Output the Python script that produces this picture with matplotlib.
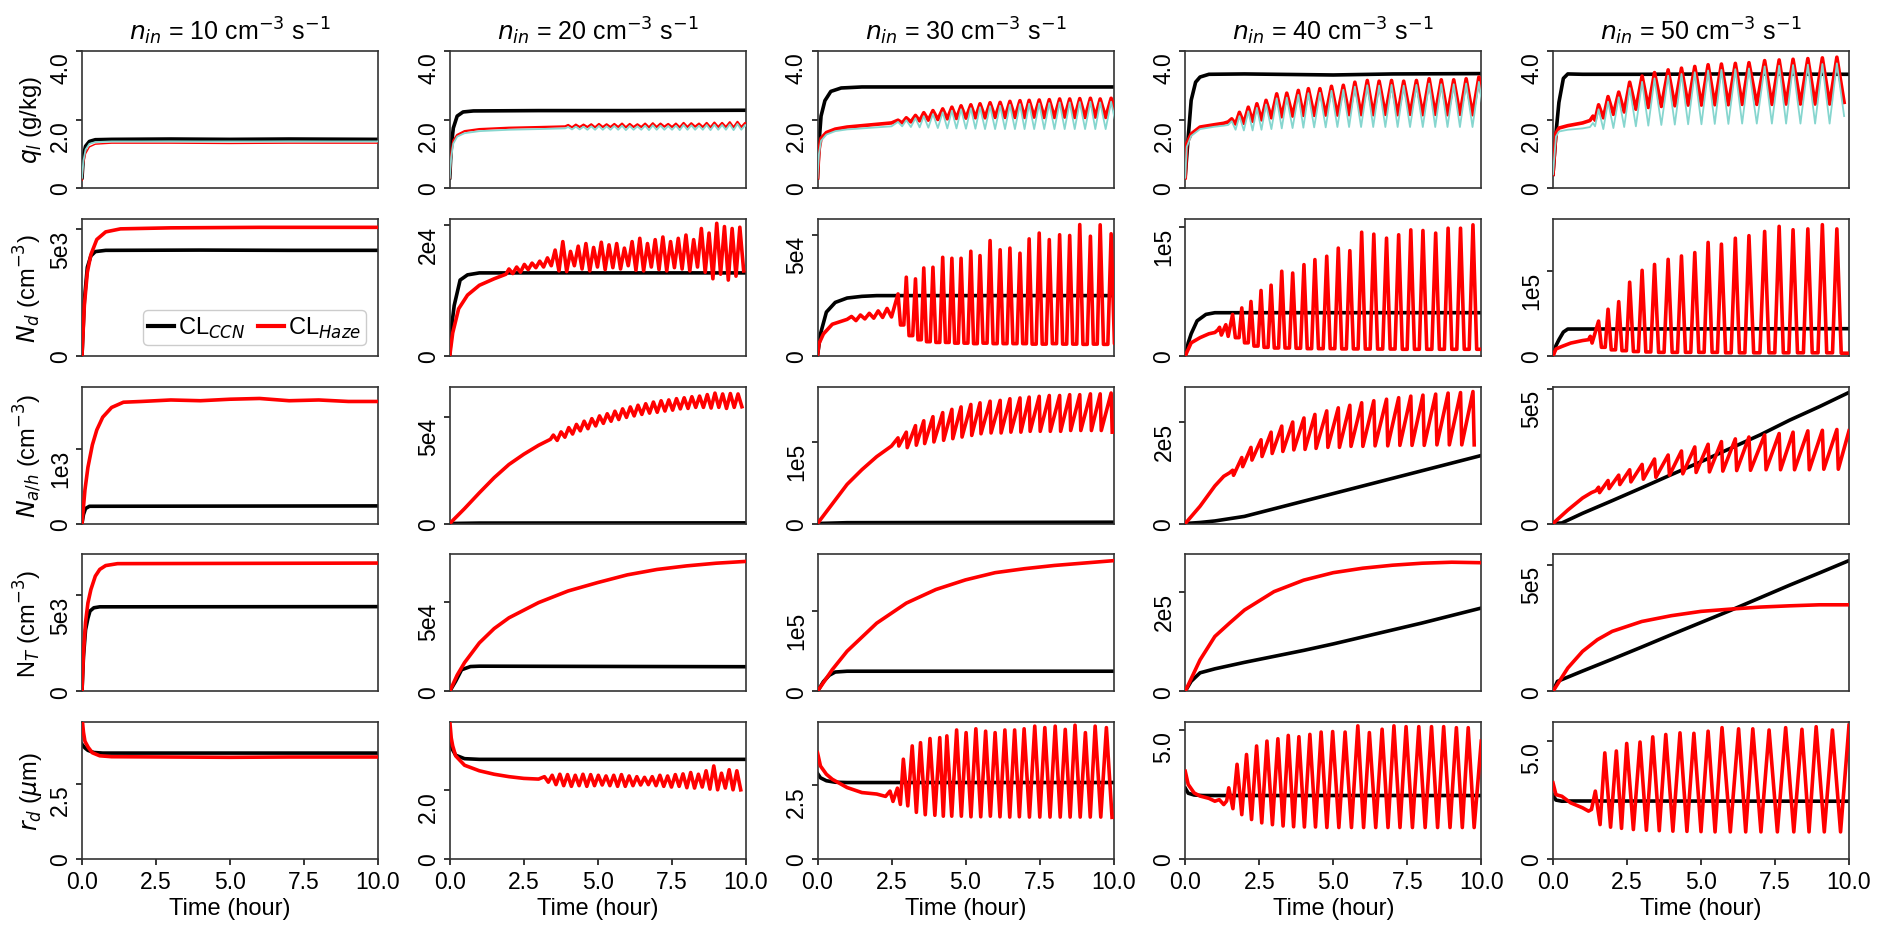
import matplotlib
matplotlib.use("Agg")
import matplotlib.pyplot as plt
from matplotlib.lines import Line2D

plt.rcParams['font.family'] = ['Liberation Sans', 'DejaVu Sans']
plt.rcParams['mathtext.fontset'] = 'dejavusans'

BLACK = '#000000'
RED = '#ff0000'
CYAN = '#86d6cf'

n_in = [10, 20, 30, 40, 50]
x_ticks = [0, 2.5, 5, 7.5, 10]
x_ticklabels = ['0.0', '2.5', '5.0', '7.5', '10.0']
row_labels = [r'$q_l$ (g/kg)', r'$N_d$ (cm$^{-3}$)', r'$N_{a/h}$ (cm$^{-3}$)',
              r'N$_T$ (cm$^{-3}$)', r'$r_d$ ($\mu$m)']

# ---- oscillation peak times (hour) ----
t20_ql = [4.0, 4.26, 4.52, 4.78, 5.04, 5.3, 5.56, 5.82, 6.08, 6.34, 6.6, 6.86, 7.12,
          7.38, 7.64, 7.9, 8.16, 8.42, 8.68, 8.94, 9.2, 9.46, 9.72, 9.98]
t20_nd = [2.0, 2.26, 2.52, 2.78, 3.04, 3.3, 3.56, 3.82, 4.08, 4.34, 4.6, 4.86, 5.12, 5.38,
          5.64, 5.9, 6.16, 6.42, 6.68, 6.94, 7.2, 7.46, 7.72, 7.98, 8.24, 8.5, 8.76, 9.02,
          9.28, 9.54, 9.8]
t20_na = [3.5, 3.76, 4.02, 4.28, 4.54, 4.8, 5.06, 5.32, 5.58, 5.84, 6.1, 6.36, 6.62, 6.88,
          7.14, 7.4, 7.66, 7.92, 8.18, 8.44, 8.7, 8.96, 9.22, 9.48, 9.74]
t20_rd = [3.2, 3.46, 3.72, 3.98, 4.24, 4.5, 4.76, 5.02, 5.28, 5.54, 5.8, 6.06, 6.32, 6.58,
          6.84, 7.1, 7.36, 7.62, 7.88, 8.14, 8.4, 8.66, 8.92, 9.18, 9.44, 9.7]
t30 = [2.72, 3.0, 3.31, 3.59, 3.9, 4.23, 4.54, 4.85, 5.18, 5.49, 5.83, 6.17, 6.5, 6.84,
       7.15, 7.49, 7.83, 8.18, 8.52, 8.86, 9.22, 9.55, 9.92]
t30_rd = [2.9, 3.2, 3.48, 3.8, 4.13, 4.37, 4.7, 5.02, 5.35, 5.68, 6.0, 6.33, 6.66, 6.98,
          7.34, 7.68, 8.03, 8.37, 8.7, 9.05, 9.38, 9.76]
t40 = [1.6, 1.91, 2.22, 2.56, 2.9, 3.26, 3.63, 4.01, 4.38, 4.78, 5.17, 5.56, 5.96, 6.37,
       6.8, 7.21, 7.62, 8.03, 8.46, 8.88, 9.3, 9.72]
t40_ql = [1.57, 1.83, 2.13, 2.42, 2.73, 3.09, 3.43, 3.82, 4.16, 4.55, 4.94, 5.34, 5.73,
          6.15, 6.55, 6.97, 7.38, 7.81, 8.24, 8.65, 9.07, 9.49, 9.92]
t40_rd = [1.47, 1.75, 2.07, 2.41, 2.76, 3.13, 3.48, 3.84, 4.21, 4.59, 4.98, 5.4, 5.83,
          6.22, 6.65, 7.05, 7.46, 7.89, 8.32, 8.73, 9.16, 9.56]
t50 = [1.54, 1.86, 2.22, 2.59, 3.01, 3.43, 3.89, 4.34, 4.79, 5.24, 5.69, 6.16, 6.62, 7.15,
       7.64, 8.11, 8.61, 9.10, 9.59]
t50_rd = [1.43, 1.75, 2.14, 2.49, 2.94, 3.37, 3.81, 4.29, 4.76, 5.24, 5.71, 6.27, 6.75,
          7.3, 7.86, 8.41, 8.89, 9.44]

# ---- q_l (g/kg) ----
ql10_ccn = [(0, 0.3), (0.05, 0.95), (0.12, 1.22), (0.25, 1.36), (0.45, 1.41), (1, 1.42),
            (3, 1.43), (5, 1.42), (7, 1.43), (10, 1.42)]
ql10_haze = [(0, 0.22), (0.05, 0.7), (0.12, 1.0), (0.25, 1.2), (0.45, 1.28), (1, 1.31),
             (3, 1.31), (5, 1.3), (7, 1.31), (10, 1.31)]
ql10_alt = [(0, 0.3), (0.05, 0.8), (0.12, 1.12), (0.25, 1.29), (0.45, 1.34), (1, 1.36),
            (3, 1.36), (5, 1.36), (7, 1.36), (10, 1.36)]

ql20_ccn = [(0, 0.3), (0.05, 1.2), (0.12, 1.75), (0.25, 2.1), (0.45, 2.22), (0.8, 2.25),
            (3, 2.26), (6, 2.26), (10, 2.27)]
ql20_haze = [(0, 0.3), (0.05, 1.0), (0.12, 1.38), (0.25, 1.55), (0.5, 1.66), (1, 1.72),
             (2, 1.76), (3, 1.78), (3.9, 1.8)]
ql20_haze_pk = [1.84, 1.85, 1.85, 1.86, 1.87, 1.86, 1.87, 1.88, 1.87, 1.86, 1.88, 1.89,
                1.88, 1.87, 1.88, 1.9, 1.89, 1.88, 1.9, 1.91, 1.9, 1.92, 1.93, 1.9]
ql20_haze_tr = [1.77, 1.78, 1.78, 1.77, 1.78, 1.78, 1.78, 1.77, 1.78, 1.78, 1.77, 1.78,
                1.79, 1.78, 1.77, 1.78, 1.79, 1.78, 1.77, 1.78, 1.78, 1.77, 1.78, 1.8]
ql20_alt = [(0, 0.3), (0.05, 0.9), (0.12, 1.3), (0.25, 1.5), (0.5, 1.6), (1, 1.66),
            (2, 1.7), (3, 1.72), (3.9, 1.74)]
ql20_alt_pk = [1.78, 1.79, 1.79, 1.8, 1.81, 1.8, 1.81, 1.82, 1.81, 1.8, 1.82, 1.83,
               1.82, 1.81, 1.82, 1.84, 1.83, 1.82, 1.84, 1.85, 1.84, 1.86, 1.87, 1.84]
ql20_alt_tr = [1.71, 1.71, 1.7, 1.7, 1.7, 1.7, 1.7, 1.69, 1.7, 1.7, 1.69, 1.7,
               1.7, 1.7, 1.69, 1.7, 1.7, 1.7, 1.69, 1.7, 1.7, 1.69, 1.7, 1.72]

ql30_ccn = [(0, 0.3), (0.05, 1.3), (0.12, 2.1), (0.25, 2.55), (0.45, 2.82), (0.8, 2.92),
            (1.5, 2.95), (5, 2.95), (10, 2.95)]
ql30_haze = [(0, 0.3), (0.05, 1.1), (0.12, 1.45), (0.3, 1.62), (0.6, 1.72), (1, 1.78),
             (1.5, 1.82), (2, 1.86), (2.5, 1.9)]
ql30_haze_pk = [1.98, 2.05, 2.12, 2.2, 2.26, 2.31, 2.36, 2.4, 2.43, 2.46, 2.49, 2.5, 2.53,
                2.55, 2.56, 2.57, 2.58, 2.6, 2.6, 2.61, 2.62, 2.6, 2.62]
ql30_haze_tr = [1.9, 1.93, 1.96, 1.98, 2.0, 2.02, 2.03, 2.04, 2.05, 2.05, 2.06, 2.06, 2.06,
                2.06, 2.07, 2.06, 2.06, 2.07, 2.06, 2.06, 2.07, 2.06, 2.1]
ql30_alt = [(0, 0.3), (0.05, 1.0), (0.12, 1.38), (0.3, 1.56), (0.6, 1.66), (1, 1.71),
            (1.5, 1.74), (2, 1.77), (2.5, 1.8)]
ql30_alt_pk = [1.93, 1.98, 2.04, 2.1, 2.16, 2.21, 2.26, 2.3, 2.33, 2.36, 2.39, 2.4, 2.43,
               2.45, 2.46, 2.47, 2.48, 2.5, 2.5, 2.51, 2.52, 2.5, 2.52]
ql30_alt_tr = [1.8, 1.78, 1.77, 1.76, 1.75, 1.74, 1.74, 1.73, 1.73, 1.72, 1.72, 1.72, 1.72,
               1.72, 1.72, 1.72, 1.72, 1.72, 1.72, 1.72, 1.72, 1.72, 1.75]

ql40_ccn = [(0, 0.36), (0.1, 1.48), (0.2, 2.56), (0.35, 3.09), (0.5, 3.24), (0.8, 3.32),
            (2, 3.33), (5, 3.3), (7, 3.33), (10, 3.34)]
ql40_haze = [(0, 0.3), (0.05, 1.29), (0.2, 1.58), (0.5, 1.78), (1, 1.85), (1.3, 1.89),
             (1.45, 1.93)]
ql40_haze_pk = [2.02, 2.21, 2.36, 2.46, 2.56, 2.75, 2.77, 2.85, 2.9, 2.9, 2.97, 3.0, 3.09,
                3.14, 3.12, 3.14, 3.12, 3.14, 3.19, 3.16, 3.16, 3.19, 3.24]
ql40_haze_tr = [1.87, 1.89, 1.95, 1.99, 2.05, 2.08, 2.1, 2.12, 2.12, 2.13, 2.13, 2.14, 2.14,
                2.14, 2.15, 2.14, 2.15, 2.14, 2.15, 2.14, 2.15, 2.14, 2.15]
ql40_alt = [(0, 0.3), (0.05, 1.2), (0.2, 1.52), (0.5, 1.72), (1, 1.79), (1.3, 1.82),
            (1.45, 1.84)]
ql40_alt_pk = [1.95, 2.1, 2.24, 2.34, 2.44, 2.62, 2.64, 2.72, 2.77, 2.78, 2.84, 2.87, 2.96,
               3.0, 2.99, 3.01, 2.99, 3.01, 3.05, 3.03, 3.03, 3.05, 3.1]
ql40_alt_tr = [1.7, 1.68, 1.68, 1.7, 1.72, 1.74, 1.75, 1.76, 1.77, 1.77, 1.78, 1.78, 1.78,
               1.78, 1.78, 1.78, 1.78, 1.78, 1.78, 1.78, 1.78, 1.78, 1.8]

ql50_ccn = [(0, 0.4), (0.1, 1.6), (0.2, 2.5), (0.35, 3.2), (0.5, 3.33), (1, 3.32),
            (3, 3.32), (6, 3.33), (10, 3.32)]
ql50_haze = [(0, 0.4), (0.1, 1.6), (0.2, 1.75), (0.5, 1.82), (1, 1.9), (1.25, 1.97),
             (1.35, 2.1), (1.42, 1.98)]
ql50_haze_pk = [2.43, 2.67, 2.8, 3.09, 3.27, 3.37, 3.45, 3.5, 3.55, 3.6, 3.62, 3.64, 3.66,
                3.72, 3.74, 3.76, 3.78, 3.8, 3.82]
ql50_haze_tr = [2.05, 2.15, 2.22, 2.3, 2.35, 2.38, 2.4, 2.42, 2.42, 2.43, 2.43, 2.44, 2.44,
                2.44, 2.45, 2.45, 2.45, 2.45, 2.5]
ql50_alt = [(0, 0.4), (0.1, 1.5), (0.2, 1.65), (0.5, 1.7), (1, 1.74), (1.25, 1.78),
            (1.35, 1.9), (1.42, 1.8)]
ql50_alt_pk = [2.3, 2.52, 2.65, 2.92, 3.1, 3.2, 3.28, 3.33, 3.38, 3.43, 3.45, 3.47, 3.49,
               3.55, 3.57, 3.59, 3.6, 3.62, 3.64]
ql50_alt_tr = [1.72, 1.75, 1.78, 1.8, 1.82, 1.84, 1.85, 1.86, 1.86, 1.87, 1.87, 1.88, 1.88,
               1.88, 1.88, 1.88, 1.88, 1.88, 2.1]

# ---- N_d (cm^-3) ----
nd10_ccn = [(0, 0), (0.08, 2.2e3), (0.18, 3.5e3), (0.3, 3.95e3), (0.45, 4.12e3),
            (0.8, 4.17e3), (4, 4.18e3), (7, 4.17e3), (10, 4.17e3)]
nd10_haze = [(0, 0), (0.08, 2.0e3), (0.18, 3.3e3), (0.3, 4.0e3), (0.5, 4.6e3), (0.8, 4.9e3),
             (1.3, 5.02e3), (3, 5.06e3), (6, 5.08e3), (10, 5.08e3)]

nd20_ccn = [(0, 0), (0.05, 0.4e4), (0.15, 0.77e4), (0.35, 1.16e4), (0.6, 1.24e4),
            (1, 1.27e4), (10, 1.27e4)]
nd20_haze = [(0, 0), (0.1, 0.35e4), (0.3, 0.72e4), (0.6, 0.93e4), (1, 1.08e4), (1.5, 1.18e4),
             (1.9, 1.25e4)]
nd20_haze_pk = [1.33, 1.36, 1.4, 1.42, 1.45, 1.5, 1.62, 1.75, 1.6, 1.68, 1.72, 1.66, 1.74,
                1.7, 1.72, 1.65, 1.75, 1.8, 1.72, 1.78, 1.82, 1.75, 1.8, 1.85, 1.78, 1.95,
                1.88, 2.03, 1.98, 1.95, 1.97]  # x1e4
nd20_haze_tr = [1.26, 1.28, 1.32, 1.35, 1.36, 1.38, 1.3, 1.29, 1.38, 1.33, 1.3, 1.36, 1.32,
                1.35, 1.33, 1.38, 1.31, 1.3, 1.36, 1.32, 1.3, 1.35, 1.33, 1.3, 1.36, 1.28,
                1.18, 1.25, 1.16, 1.22, 1.3]  # x1e4

nd30_ccn = [(0, 0), (0.1, 0.9e4), (0.3, 1.8e4), (0.6, 2.2e4), (1, 2.38e4), (1.5, 2.45e4),
            (2, 2.48e4), (10, 2.48e4)]
nd30_haze = [(0, 0), (0.05, 0.5e4), (0.2, 0.9e4), (0.5, 1.3e4), (1.0, 1.5e4), (1.15, 1.62e4),
             (1.3, 1.45e4), (1.45, 1.68e4), (1.6, 1.52e4), (1.75, 1.75e4), (1.9, 1.55e4),
             (2.05, 1.85e4), (2.2, 1.58e4), (2.35, 1.95e4), (2.5, 1.6e4)]
nd30_haze_pk = [2.55, 3.24, 3.17, 3.62, 3.65, 4.06, 4.02, 4.02, 4.31, 4.13, 4.75, 4.37,
                4.44, 4.23, 4.82, 5.06, 4.79, 4.99, 4.96, 5.41, 4.93, 5.4, 5.03]  # x1e4
nd30_haze_tr = [1.27, 0.83, 0.66, 0.58, 0.55, 0.55, 0.52, 0.52, 0.5, 0.52, 0.5, 0.5, 0.5,
                0.5, 0.48, 0.48, 0.5, 0.48, 0.48, 0.47, 0.48, 0.47, 0.5]  # x1e4

nd40_ccn = [(0, 0), (0.1, 0.1e5), (0.2, 0.17e5), (0.4, 0.27e5), (0.7, 0.32e5),
            (1, 0.333e5), (10, 0.333e5)]
nd40_haze = [(0, 0), (0.2, 0.1e5), (0.5, 0.14e5), (0.8, 0.17e5), (1.0, 0.18e5), (1.1, 0.2e5),
             (1.16, 0.22e5), (1.22, 0.16e5), (1.37, 0.24e5), (1.45, 0.15e5)]
nd40_haze_pk = [0.32, 0.37, 0.42, 0.505, 0.546, 0.654, 0.64, 0.705, 0.744, 0.77, 0.833,
                0.813, 0.956, 0.941, 0.91, 0.936, 0.974, 0.969, 0.949, 0.987, 0.987, 1.013]
nd40_haze_tr = [0.14, 0.1, 0.075, 0.065, 0.06, 0.06, 0.058, 0.055, 0.055, 0.055, 0.053,
                0.053, 0.052, 0.052, 0.052, 0.05, 0.05, 0.05, 0.05, 0.05, 0.05, 0.05]

nd50_ccn = [(0, 0), (0.1, 0.12e5), (0.2, 0.19e5), (0.35, 0.28e5), (0.5, 0.316e5),
            (10, 0.32e5)]
nd50_haze = [(0, 0), (0.1, 0.08e5), (0.3, 0.11e5), (0.6, 0.15e5), (1, 0.18e5),
             (1.2, 0.19e5), (1.26, 0.23e5), (1.32, 0.15e5)]
nd50_haze_pk = [0.41, 0.55, 0.64, 0.87, 1.01, 1.08, 1.14, 1.18, 1.22, 1.34, 1.32, 1.39,
                1.42, 1.47, 1.53, 1.49, 1.5, 1.55, 1.5]
nd50_haze_tr = [0.1, 0.07, 0.06, 0.05, 0.045, 0.04, 0.04, 0.04, 0.04, 0.04, 0.035, 0.035,
                0.035, 0.035, 0.035, 0.035, 0.035, 0.035, 0.03]

# ---- N_a/h (cm^-3) ----
na10_ccn = [(0, 0), (0.05, 0.12e3), (0.12, 0.2e3), (0.25, 0.23e3), (10, 0.235e3)]
na10_haze = [(0, 0), (0.1, 0.45e3), (0.2, 0.75e3), (0.35, 1.05e3), (0.5, 1.25e3),
             (0.7, 1.42e3), (1, 1.55e3), (1.4, 1.62e3), (2, 1.63e3), (3, 1.65e3),
             (4, 1.64e3), (5, 1.66e3), (6, 1.67e3), (7, 1.64e3), (8, 1.65e3), (9, 1.63e3),
             (10, 1.63e3)]

na20_ccn = [(0, 0), (1, 0.02e4), (10, 0.03e4)]
na20_haze = [(0, 0), (0.5, 0.7e4), (1, 1.44e4), (1.5, 2.15e4), (2, 2.77e4), (2.5, 3.25e4),
             (3, 3.67e4), (3.4, 3.95e4)]
na20_haze_pk = [4.15, 4.3, 4.5, 4.65, 4.8, 4.92, 5.05, 5.15, 5.27, 5.38, 5.47, 5.55, 5.62,
                5.7, 5.76, 5.8, 5.86, 5.9, 5.95, 5.98, 6.05, 6.12, 6.08, 6.1, 6.08]  # x1e4
na20_haze_tr = [3.9, 4.05, 4.2, 4.35, 4.45, 4.58, 4.7, 4.8, 4.88, 4.98, 5.05, 5.12, 5.18,
                5.22, 5.28, 5.32, 5.38, 5.4, 5.45, 5.45, 5.42, 5.45, 5.4, 5.45, 5.48]

na30_ccn = [(0, 0), (1, 0.01e5), (10, 0.016e5)]
na30_haze = [(0, 0), (0.5, 0.24e5), (1, 0.48e5), (1.5, 0.66e5), (2, 0.82e5), (2.5, 0.95e5)]
na30_haze_pk = [1.05, 1.12, 1.2, 1.26, 1.31, 1.36, 1.4, 1.43, 1.46, 1.48, 1.5, 1.51, 1.53,
                1.54, 1.55, 1.56, 1.57, 1.57, 1.58, 1.58, 1.59, 1.59, 1.6]  # x1e5
na30_haze_tr = [0.95, 0.93, 0.96, 0.98, 1.0, 1.02, 1.04, 1.06, 1.08, 1.1, 1.11, 1.11, 1.12,
                1.12, 1.13, 1.13, 1.13, 1.13, 1.14, 1.14, 1.14, 1.14, 1.12]

na40_ccn = [(0, 0), (0.5, 0.02e5), (1, 0.05e5), (2, 0.14e5), (3, 0.29e5), (4, 0.44e5),
            (5, 0.59e5), (6, 0.74e5), (7, 0.89e5), (8, 1.04e5), (9, 1.19e5), (10, 1.34e5)]
na40_haze = [(0, 0), (0.5, 0.34e5), (1, 0.74e5), (1.3, 0.93e5), (1.5, 1.0e5)]
na40_haze_pk = [1.05, 1.3, 1.5, 1.65, 1.8, 1.92, 2.0, 2.08, 2.15, 2.22, 2.28, 2.33, 2.38,
                2.42, 2.45, 2.48, 2.51, 2.53, 2.55, 2.57, 2.58, 2.6]  # x1e5
na40_haze_tr = [0.95, 1.12, 1.25, 1.32, 1.38, 1.42, 1.45, 1.46, 1.48, 1.5, 1.5, 1.52,
                1.52, 1.53, 1.53, 1.54, 1.54, 1.54, 1.55, 1.55, 1.55, 1.55]

na50_ccn = [(0, 0), (0.3, 0.02e5), (1, 0.38e5), (2, 0.85e5), (3, 1.33e5), (4, 1.82e5),
            (5, 2.3e5), (6, 2.8e5), (7, 3.3e5), (8, 3.85e5), (9, 4.35e5), (10, 4.88e5)]
na50_haze = [(0, 0), (0.5, 0.5e5), (1, 0.95e5), (1.3, 1.15e5), (1.45, 1.22e5)]
na50_haze_pk = [1.35, 1.6, 1.8, 2.0, 2.2, 2.4, 2.55, 2.7, 2.85, 2.95, 3.05, 3.15, 3.22,
                3.3, 3.35, 3.4, 3.45, 3.47, 3.5]  # x1e5
na50_haze_tr = [1.15, 1.3, 1.45, 1.55, 1.65, 1.72, 1.8, 1.85, 1.9, 1.92, 1.95, 1.97, 1.98,
                2.0, 2.0, 2.0, 2.0, 2.02, 2.02]
na50_haze_end = [(10, 3.45e5)]

# ---- N_T (cm^-3) ----
nt10_ccn = [(0, 0), (0.05, 1.8e3), (0.12, 3.2e3), (0.2, 3.8e3), (0.27, 4.18e3),
            (0.4, 4.35e3), (0.6, 4.4e3), (10, 4.41e3)]
nt10_haze = [(0, 0), (0.05, 2.0e3), (0.12, 3.6e3), (0.2, 4.6e3), (0.3, 5.3e3), (0.45, 6.0e3),
             (0.6, 6.35e3), (0.8, 6.55e3), (1.2, 6.65e3), (10, 6.68e3)]
nt20_ccn = [(0, 0), (0.2, 0.56e4), (0.4, 1.2e4), (0.7, 1.38e4), (1, 1.4e4), (10, 1.37e4)]
nt20_haze = [(0, 0), (0.25, 0.9e4), (0.5, 1.6e4), (1, 2.7e4), (1.5, 3.5e4), (2, 4.1e4),
             (3, 4.95e4), (4, 5.6e4), (5, 6.07e4), (6, 6.5e4), (7, 6.8e4), (8, 7.0e4),
             (9, 7.15e4), (10, 7.25e4)]
nt30_ccn = [(0, 0), (0.2, 0.12e5), (0.4, 0.2e5), (0.6, 0.24e5), (1, 0.25e5), (10, 0.25e5)]
nt30_haze = [(0, 0), (0.5, 0.27e5), (1, 0.5e5), (2, 0.85e5), (3, 1.1e5), (4, 1.27e5),
             (5, 1.39e5), (6, 1.48e5), (7, 1.53e5), (8, 1.57e5), (9, 1.6e5), (10, 1.63e5)]
nt40_ccn = [(0, 0), (0.2, 0.2e5), (0.5, 0.37e5), (1, 0.45e5), (2, 0.58e5), (3, 0.7e5),
            (4, 0.82e5), (5, 0.95e5), (6, 1.09e5), (7, 1.23e5), (8, 1.37e5), (9, 1.52e5),
            (10, 1.67e5)]
nt40_haze = [(0, 0), (0.5, 0.63e5), (1, 1.1e5), (1.5, 1.37e5), (2, 1.63e5), (3, 2.0e5),
             (4, 2.23e5), (5, 2.38e5), (6, 2.47e5), (7, 2.53e5), (8, 2.57e5), (9, 2.59e5),
             (10, 2.58e5)]
nt50_ccn = [(0, 0), (0.15, 0.39e5), (1, 0.8e5), (2, 1.27e5), (3, 1.75e5), (4, 2.24e5),
            (5, 2.72e5), (6, 3.2e5), (7, 3.7e5), (8, 4.2e5), (9, 4.68e5), (10, 5.17e5)]
nt50_haze = [(0, 0), (0.5, 0.92e5), (1, 1.58e5), (1.5, 2.04e5), (2, 2.37e5), (3, 2.76e5),
             (4, 2.99e5), (5, 3.16e5), (6, 3.25e5), (7, 3.33e5), (8, 3.38e5), (9, 3.42e5),
             (10, 3.42e5)]

# ---- r_d (um) ----
rd10_ccn = [(0, 3.8), (0.1, 3.68), (0.2, 3.6), (0.4, 3.53), (0.7, 3.51), (10, 3.51)]
rd10_haze = [(0, 4.7), (0.05, 4.2), (0.1, 3.9), (0.21, 3.7), (0.35, 3.52), (0.6, 3.42),
             (1, 3.39), (3, 3.38), (5, 3.37), (7, 3.38), (10, 3.38)]
rd20_ccn = [(0, 3.4), (0.1, 3.15), (0.2, 3.0), (0.5, 2.9), (1, 2.88), (10, 2.88)]
rd20_haze = [(0, 4.0), (0.05, 3.5), (0.1, 3.27), (0.2, 2.98), (0.5, 2.71), (1, 2.55),
             (1.5, 2.45), (2, 2.38), (2.5, 2.33), (3, 2.31)]
rd20_haze_pk = [2.38, 2.42, 2.45, 2.44, 2.42, 2.45, 2.44, 2.42, 2.4, 2.42, 2.44, 2.4, 2.38,
                2.36, 2.38, 2.42, 2.4, 2.44, 2.46, 2.5, 2.45, 2.55, 2.69, 2.48, 2.58, 2.55]
rd20_haze_tr = [2.22, 2.15, 2.12, 2.1, 2.12, 2.1, 2.12, 2.14, 2.12, 2.1, 2.1, 2.12, 2.14,
                2.15, 2.12, 2.1, 2.08, 2.1, 2.06, 2.05, 2.08, 2.02, 2.0, 2.05, 2.0, 2.0]
rd30_ccn = [(0, 2.9), (0.1, 2.75), (0.3, 2.65), (0.6, 2.6), (1, 2.59), (10, 2.59)]
rd30_haze = [(0, 3.6), (0.1, 3.15), (0.3, 2.87), (0.5, 2.7), (1, 2.42), (1.5, 2.25),
             (2, 2.2), (2.3, 2.12), (2.45, 2.3), (2.55, 1.95), (2.7, 2.4), (2.8, 1.85)]
rd30_haze_pk = [3.38, 3.83, 3.94, 4.08, 4.11, 4.17, 4.37, 4.28, 4.41, 4.33, 4.28, 4.37,
                4.37, 4.41, 4.5, 4.45, 4.5, 4.39, 4.53, 4.28, 4.5, 4.45]
rd30_haze_tr = [1.8, 1.58, 1.5, 1.48, 1.45, 1.45, 1.45, 1.43, 1.43, 1.45, 1.43, 1.42, 1.43,
                1.42, 1.42, 1.42, 1.42, 1.42, 1.42, 1.42, 1.42, 1.41]
rd40_ccn = [(0, 2.75), (0.1, 2.55), (0.3, 2.48), (0.6, 2.46), (10, 2.46)]
rd40_haze = [(0, 3.4), (0.1, 2.89), (0.3, 2.56), (0.5, 2.44), (0.8, 2.35), (1, 2.24),
             (1.15, 2.3), (1.3, 2.11), (1.4, 2.25)]
rd40_haze_pk = [2.76, 3.67, 4.05, 4.38, 4.57, 4.66, 4.79, 4.74, 4.83, 4.92, 4.94, 4.92,
                5.16, 4.9, 5.03, 5.16, 5.13, 5.13, 5.13, 5.13, 5.09, 5.09]
rd40_haze_tr = [1.95, 1.72, 1.53, 1.4, 1.33, 1.28, 1.25, 1.24, 1.24, 1.22, 1.22, 1.22, 1.22,
                1.22, 1.22, 1.22, 1.22, 1.22, 1.22, 1.22, 1.22, 1.22]
rd40_haze_end = [(10, 4.57)]
rd50_ccn = [(0, 2.7), (0.1, 2.5), (0.3, 2.45), (0.6, 2.46), (10, 2.45)]
rd50_haze = [(0, 3.23), (0.1, 2.73), (0.3, 2.66), (0.6, 2.38), (1, 2.17), (1.2, 2.03),
             (1.3, 2.1)]
rd50_haze_pk = [2.88, 4.5, 4.58, 4.9, 4.96, 5.18, 5.28, 5.35, 5.33, 5.42, 5.57, 5.52,
                5.52, 5.47, 5.57, 5.5, 5.61, 5.47]
rd50_haze_tr = [1.46, 1.35, 1.3, 1.25, 1.22, 1.2, 1.18, 1.17, 1.16, 1.15, 1.15, 1.15, 1.15,
                1.15, 1.15, 1.15, 1.15, 1.15]
rd50_haze_end = [(10, 5.67)]

# axis limits and the single non-zero tick of each panel
ylim_top = [[4.0, 4.0, 4.0, 4.0, 4.0],
            [5.42e3, 2.1e4, 5.65e4, 1.06e5, 1.62e5],
            [1.83e3, 6.43e4, 1.68e5, 2.7e5, 5.1e5],
            [7.14e3, 7.65e4, 1.71e5, 2.75e5, 5.42e5],
            [4.54, 3.96, 4.64, 5.31, 5.81]]
ytick_val = [[2.0, 2.0, 2.0, 2.0, 2.0],
             [5e3, 2e4, 5e4, 1e5, 1e5],
             [1e3, 5e4, 1e5, 2e5, 5e5],
             [5e3, 5e4, 1e5, 2e5, 5e5],
             [2.5, 2.0, 2.5, 5.0, 5.0]]
ytick_txt = [['2.0', '2.0', '2.0', '2.0', '2.0'],
             ['5e3', '2e4', '5e4', '1e5', '1e5'],
             ['1e3', '5e4', '1e5', '2e5', '5e5'],
             ['5e3', '5e4', '1e5', '2e5', '5e5'],
             ['2.5', '2.0', '2.5', '5.0', '5.0']]


def build(base, times=None, peaks=None, troughs=None, shape='sin', scale=1.0, end=()):
    ts = [p[0] for p in base]
    ys = [p[1] for p in base]
    if times is not None:
        for k, tk in enumerate(times):
            per = times[k + 1] - tk if k + 1 < len(times) else tk - times[k - 1]
            pk = peaks[k] * scale
            tr = troughs[k] * scale
            if shape == 'sin':
                ts += [tk, tk + per / 2]
                ys += [pk, tr]
            elif shape == 'spike':
                ts += [tk, tk + 0.3 * per, tk + 0.7 * per]
                ys += [pk, tr, tr]
            else:  # saw: slow rise, sharp drop
                ts += [tk, tk + 0.1 * per]
                ys += [pk, tr]
    for p in end:
        ts.append(p[0])
        ys.append(p[1])
    return ts, ys


def xy(pts):
    return [p[0] for p in pts], [p[1] for p in pts]


ccn = [[ql10_ccn, ql20_ccn, ql30_ccn, ql40_ccn, ql50_ccn],
       [nd10_ccn, nd20_ccn, nd30_ccn, nd40_ccn, nd50_ccn],
       [na10_ccn, na20_ccn, na30_ccn, na40_ccn, na50_ccn],
       [nt10_ccn, nt20_ccn, nt30_ccn, nt40_ccn, nt50_ccn],
       [rd10_ccn, rd20_ccn, rd30_ccn, rd40_ccn, rd50_ccn]]

haze = [
    [build(ql10_haze),
     build(ql20_haze, t20_ql, ql20_haze_pk, ql20_haze_tr),
     build(ql30_haze, t30, ql30_haze_pk, ql30_haze_tr),
     build(ql40_haze, t40_ql, ql40_haze_pk, ql40_haze_tr),
     build(ql50_haze, t50, ql50_haze_pk, ql50_haze_tr)],
    [build(nd10_haze),
     build(nd20_haze, t20_nd, nd20_haze_pk, nd20_haze_tr, 'sin', 1e4),
     build(nd30_haze, t30, nd30_haze_pk, nd30_haze_tr, 'spike', 1e4),
     build(nd40_haze, t40, nd40_haze_pk, nd40_haze_tr, 'spike', 1e5),
     build(nd50_haze, t50, nd50_haze_pk, nd50_haze_tr, 'spike', 1e5)],
    [build(na10_haze),
     build(na20_haze, t20_na, na20_haze_pk, na20_haze_tr, 'sin', 1e4),
     build(na30_haze, t30, na30_haze_pk, na30_haze_tr, 'saw', 1e5),
     build(na40_haze, t40, na40_haze_pk, na40_haze_tr, 'saw', 1e5),
     build(na50_haze, t50, na50_haze_pk, na50_haze_tr, 'saw', 1e5, na50_haze_end)],
    [build(nt10_haze), build(nt20_haze), build(nt30_haze), build(nt40_haze),
     build(nt50_haze)],
    [build(rd10_haze),
     build(rd20_haze, t20_rd, rd20_haze_pk, rd20_haze_tr),
     build(rd30_haze, t30_rd, rd30_haze_pk, rd30_haze_tr),
     build(rd40_haze, t40_rd, rd40_haze_pk, rd40_haze_tr, 'sin', 1.0, rd40_haze_end),
     build(rd50_haze, t50_rd, rd50_haze_pk, rd50_haze_tr, 'sin', 1.0, rd50_haze_end)],
]

alt = [build(ql10_alt),
       build(ql20_alt, t20_ql, ql20_alt_pk, ql20_alt_tr),
       build(ql30_alt, t30, ql30_alt_pk, ql30_alt_tr),
       build(ql40_alt, t40_ql, ql40_alt_pk, ql40_alt_tr),
       build(ql50_alt, t50, ql50_alt_pk, ql50_alt_tr)]

W, H = 1892, 945
fig = plt.figure(figsize=(W / 100, H / 100), dpi=100)

ax_w, ax_h = 296, 137
for r in range(5):
    for c in range(5):
        left = 82 + c * 367.75
        top = 52 + r * 167.75
        ax = fig.add_axes([left / W, 1 - (top + ax_h) / H, ax_w / W, ax_h / H])

        red_lw = 2.6
        if r == 0 and c == 0:
            red_lw = 1.0
        elif r == 0 and c == 1:
            red_lw = 1.6

        tx, ty = xy(ccn[r][c])
        ax.plot(tx, ty, color=BLACK, lw=2.6, zorder=2)
        hx, hy = haze[r][c]
        ax.plot(hx, hy, color=RED, lw=red_lw, zorder=3)
        if r == 0:
            ax.plot(alt[c][0], alt[c][1], color=CYAN, lw=1.3, zorder=4)

        ax.set_xlim(0, 10)
        ax.set_ylim(0, ylim_top[r][c])

        if r == 0:
            yt = [0, 2.0, 4.0]
            yl = ['0', '2.0', '4.0']
        else:
            yt = [0, ytick_val[r][c]]
            yl = ['0', ytick_txt[r][c]]
        ax.set_yticks(yt)
        ax.set_yticklabels(yl, fontsize=16.5)
        for lbl in ax.get_yticklabels():
            lbl.set_rotation(90)
            lbl.set_rotation_mode('anchor')
            lbl.set_va('bottom')
            lbl.set_ha('center' if lbl.get_text() == '0' else 'right')

        if r == 4:
            ax.set_xticks(x_ticks)
            ax.set_xticklabels(x_ticklabels, fontsize=16.5)
            ax.set_xlabel('Time (hour)', fontsize=17, labelpad=3)
            ax.tick_params(axis='x', direction='out', length=4, width=1.1, pad=4)
        else:
            ax.set_xticks([])

        ax.tick_params(axis='y', direction='out', length=4, width=1.1, pad=3)
        for sp in ax.spines.values():
            sp.set_color('#333333')
            sp.set_linewidth(1.2)

        if c == 0:
            ax.set_ylabel(row_labels[r], fontsize=17, labelpad=4)
        if r == 0:
            ax.set_title(r'$n_{in}$ = %d cm$^{-3}$ s$^{-1}$' % n_in[c], fontsize=18, pad=8)

        if r == 1 and c == 0:
            handles = [Line2D([], [], color=BLACK, lw=3), Line2D([], [], color=RED, lw=3)]
            ax.legend(handles, [r'CL$_{CCN}$', r'CL$_{Haze}$'], ncol=2, fontsize=17,
                      loc='lower right', bbox_to_anchor=(0.96, 0.08),
                      handlelength=1.1, handletextpad=0.2, columnspacing=0.5,
                      borderpad=0.2, borderaxespad=0.0, framealpha=1.0,
                      edgecolor='#cccccc', fancybox=True)

fig.savefig('out.png', dpi=100)
